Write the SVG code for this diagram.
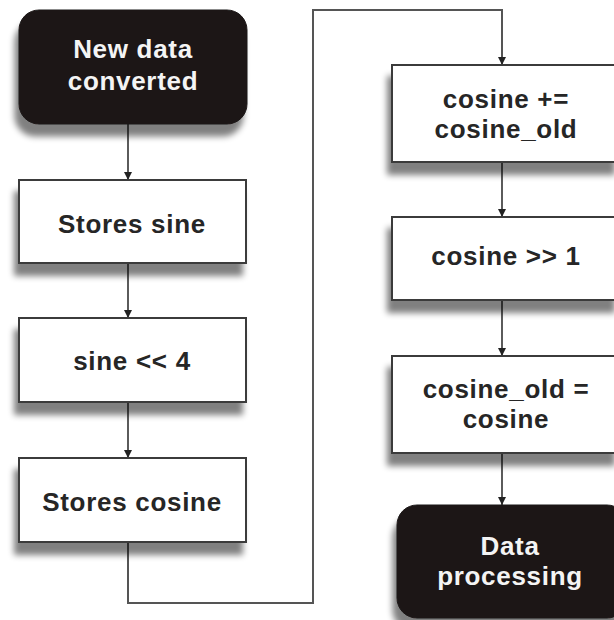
<svg xmlns="http://www.w3.org/2000/svg" width="614" height="620" viewBox="0 0 614 620">
<style>
.box{fill:#fff;stroke:#3a3a3a;stroke-width:2}
.dark{fill:#1b1616;stroke:#1b1616;stroke-width:1}
.t{font-family:"Liberation Sans",Arial,sans-serif;font-weight:bold;font-size:26px;letter-spacing:0.7px;text-anchor:middle;fill:#262626}
.tw{fill:#f4f4f4}
.c{fill:none;stroke:#333;stroke-width:1.6}
.c2{fill:none;stroke:#555;stroke-width:2}
</style>
<defs>
<filter id="sh" x="-20%" y="-20%" width="140%" height="160%">
<feGaussianBlur in="SourceAlpha" stdDeviation="3"/>
<feOffset dx="-4" dy="12" result="b"/>
<feComponentTransfer><feFuncA type="linear" slope="0.5"/></feComponentTransfer>
<feMerge><feMergeNode/><feMergeNode in="SourceGraphic"/></feMerge>
</filter>
<marker id="ar" viewBox="0 0 10 10" refX="10" refY="5" markerWidth="8" markerHeight="8" markerUnits="userSpaceOnUse" orient="auto">
<path d="M0,0 L10,5 L0,10 Z" fill="#222"/>
</marker>
</defs>
<rect width="614" height="620" fill="#fff"/>
<g id="connectors">
<line class="c" x1="128" y1="124" x2="128" y2="180" marker-end="url(#ar)"/>
<line class="c" x1="128" y1="263" x2="128" y2="318" marker-end="url(#ar)"/>
<line class="c" x1="128" y1="402" x2="128" y2="458" marker-end="url(#ar)"/>
<path class="c2" d="M128,542 V603 H313 V10 H502 V65" marker-end="url(#ar)"/>
<line class="c" x1="502" y1="162" x2="502" y2="217" marker-end="url(#ar)"/>
<line class="c" x1="502" y1="300" x2="502" y2="356" marker-end="url(#ar)"/>
<line class="c" x1="502" y1="453" x2="502" y2="505" marker-end="url(#ar)"/>
</g>
<g id="n1">
<rect class="dark" x="19" y="10" width="228" height="114" rx="20" filter="url(#sh)"/>
<text class="t tw" x="133" y="58">New data</text>
<text class="t tw" x="133" y="90">converted</text>
</g>
<g id="n2">
<rect class="box" x="19" y="180" width="227" height="83" filter="url(#sh)"/>
<text class="t" x="132" y="233">Stores sine</text>
</g>
<g id="n3">
<rect class="box" x="19" y="318" width="227" height="84" filter="url(#sh)"/>
<text class="t" x="132" y="370">sine &lt;&lt; 4</text>
</g>
<g id="n4">
<rect class="box" x="19" y="458" width="227" height="84" filter="url(#sh)"/>
<text class="t" x="132" y="511">Stores cosine</text>
</g>
<g id="n5">
<rect class="box" x="392" y="65" width="226" height="97" filter="url(#sh)"/>
<text class="t" x="506" y="108">cosine +=</text>
<text class="t" x="506" y="138">cosine_old</text>
</g>
<g id="n6">
<rect class="box" x="392" y="217" width="226" height="83" filter="url(#sh)"/>
<text class="t" x="506" y="265">cosine &gt;&gt; 1</text>
</g>
<g id="n7">
<rect class="box" x="392" y="356" width="226" height="97" filter="url(#sh)"/>
<text class="t" x="506" y="398">cosine_old =</text>
<text class="t" x="506" y="428">cosine</text>
</g>
<g id="n8">
<rect class="dark" x="397" y="505" width="230" height="113" rx="20" filter="url(#sh)"/>
<text class="t tw" x="510" y="555">Data</text>
<text class="t tw" x="510" y="585">processing</text>
</g>
</svg>
